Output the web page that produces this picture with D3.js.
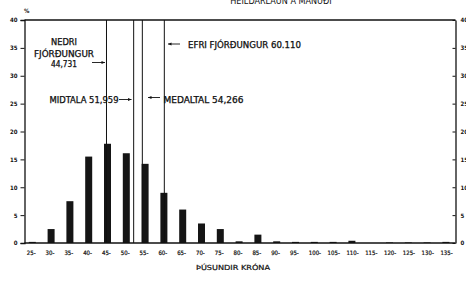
<!DOCTYPE html>
<html>
<head>
<meta charset="utf-8">
<script src="https://cdn.jsdelivr.net/npm/d3@7"></script>
<style>
  body { margin: 0; background: #fff; }
  text { font-family: "DejaVu Sans Condensed", "DejaVu Sans", sans-serif; fill: #111; }
</style>
</head>
<body>
<div id="chart"></div>
<script>
// lower bound of each income class (þúsund krónur)
var classes = [25, 30, 35, 40, 45, 50, 55, 60, 65, 70, 75, 80, 85, 90, 95, 100, 105, 110, 115, 120, 125, 130, 135];
// share of people in each class, %
var shares = [0.2, 2.5, 7.5, 15.5, 17.8, 16.1, 14.2, 9.0, 6.0, 3.5, 2.5, 0.3, 1.5, 0.3, 0.2, 0.2, 0.2, 0.4, 0.0, 0.1, 0.1, 0.1, 0.2];
var yTicks = [0, 5, 10, 15, 20, 25, 30, 35, 40];
// quartiles, median and mean
var markValues = [44.731, 51.959, 54.266, 60.110];

var width = 466, height = 281;
var plotLeft = 24.5, plotRight = 455.5, plotTop = 20, plotBottom = 243;

var svg = d3.select("#chart").append("svg")
    .attr("width", width)
    .attr("height", height);

var x = d3.scaleLinear().domain([25, 135]).range([32.3, 445.9]);
var y = d3.scaleLinear().domain([0, 40]).range([plotBottom, plotTop]);

// title, mostly cut off by the page edge
svg.append("text")
   .attr("x", 281).attr("y", 3.5)
   .attr("text-anchor", "middle")
   .style("font-size", "9px")
   .text("HEILDARLAUN Á MÁNUÐI");

svg.append("text")
   .attr("x", 24).attr("y", 13)
   .style("font-size", "6px").style("font-weight", "bold")
   .text("%");

// bars
var barW = 7;
svg.selectAll("rect.bar")
   .data(classes)
   .enter()
   .append("rect")
   .attr("class", "bar")
   .attr("x", function(d) { return x(d) - barW / 2; })
   .attr("width", barW)
   .attr("y", function(d, i) { return y(shares[i]); })
   .attr("height", function(d, i) { return plotBottom - y(shares[i]); })
   .attr("fill", "#151515");

// vertical marker lines
svg.selectAll("line.mark")
   .data(markValues)
   .enter()
   .append("line")
   .attr("class", "mark")
   .attr("x1", function(d) { return x(d); })
   .attr("x2", function(d) { return x(d); })
   .attr("y1", plotTop)
   .attr("y2", plotBottom)
   .attr("stroke", "#111")
   .attr("stroke-width", 1);

// frame: top, baseline
svg.append("line").attr("x1", plotLeft).attr("x2", plotRight).attr("y1", plotTop).attr("y2", plotTop)
   .attr("stroke", "#111").attr("stroke-width", 1.3);
svg.append("line").attr("x1", plotLeft).attr("x2", plotRight).attr("y1", plotBottom).attr("y2", plotBottom)
   .attr("stroke", "#111").attr("stroke-width", 1.3);

// left and right axes
var yLeft = svg.append("g")
   .attr("transform", "translate(" + plotLeft + ",0)")
   .call(d3.axisLeft(y).tickValues(yTicks).tickSize(4).tickPadding(3));
var yRight = svg.append("g")
   .attr("transform", "translate(" + plotRight + ",0)")
   .call(d3.axisRight(y).tickValues(yTicks).tickSize(0).tickPadding(5));
yRight.selectAll(".tick line").attr("x1", -3).attr("x2", 0);
[yLeft, yRight].forEach(function(g) {
  g.select(".domain").attr("stroke", "#111").attr("stroke-width", 1.3);
  g.selectAll(".tick line").attr("stroke", "#111");
  g.selectAll("text").style("font-size", "6px").style("font-weight", "bold")
   .style("font-family", "DejaVu Sans Condensed, sans-serif").attr("fill", "#111");
});

// class labels under the bars
svg.selectAll("text.cls")
   .data(classes)
   .enter()
   .append("text")
   .attr("class", "cls")
   .attr("x", function(d) { return x(d) - 5.5; })
   .attr("y", 255)
   .style("font-size", "6px")
   .style("stroke", "#111").style("stroke-width", 0.2)
   .text(function(d) { return d + "-"; });

svg.append("text")
   .attr("x", 233).attr("y", 270)
   .attr("text-anchor", "middle")
   .style("font-size", "7px")
   .style("stroke", "#111").style("stroke-width", 0.2)
   .attr("textLength", 74).attr("lengthAdjust", "spacingAndGlyphs")
   .text("ÞÚSUNDIR KRÓNA");

// annotations
function label(txt, x0, y0, len) {
  svg.append("text")
     .attr("x", x0).attr("y", y0)
     .style("font-size", "8px")
     .style("stroke", "#111").style("stroke-width", 0.25)
     .attr("textLength", len).attr("lengthAdjust", "spacingAndGlyphs")
     .text(txt);
}
function arrow(x1, x2, yy) {
  var dir = x2 > x1 ? 1 : -1;
  svg.append("line").attr("x1", x1).attr("x2", x2).attr("y1", yy).attr("y2", yy)
     .attr("stroke", "#111").attr("stroke-width", 0.9);
  svg.append("path")
     .attr("d", "M" + x2 + "," + yy + "L" + (x2 - dir * 3.5) + "," + (yy - 1.6) + "L" + (x2 - dir * 3.5) + "," + (yy + 1.6) + "Z")
     .attr("fill", "#111");
}

label("NEDRI", 51, 45, 26);
label("FJÓRÐUNGUR", 34, 56.5, 60);
label("44,731", 51, 66.5, 26);
arrow(92, 105, 62.5);

label("MIDTALA 51,959", 49.5, 103, 69);
arrow(119, 131.5, 99.5);

arrow(160, 148, 97.5);
label("MEDALTAL 54,266", 163.5, 103, 80);

arrow(180, 168, 44);
label("EFRI FJÓRÐUNGUR 60.110", 188, 48, 113);
</script>
</body>
</html>
